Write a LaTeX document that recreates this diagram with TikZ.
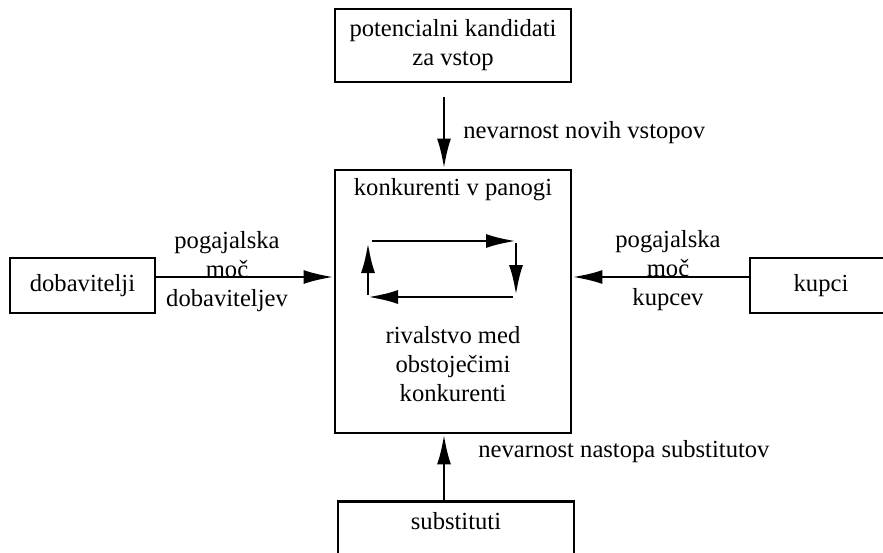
\documentclass[tikz,border=0pt]{standalone}
\usepackage{fontspec}
\setmainfont{Liberation Serif}
\usetikzlibrary{arrows.meta}
\tikzset{>={Latex[length=15pt,width=7pt]}}
\tikzset{box/.style={draw, line width=1.4pt, inner sep=0pt, align=center}}
\tikzset{napis/.style={inner sep=0pt, align=center, font=\fontsize{12.3}{14.5}\selectfont}}

\begin{document}
\begin{tikzpicture}[x=0.5pt, y=-0.5pt, line width=1.4pt, every node/.style={napis}]
\clip (0,0) rectangle (883,552);
% okvirji
\node[box, minimum width=118pt, minimum height=36.5pt] (vstop) at (453,45.5) {potencialni kandidati\\za vstop};
\node[box, minimum width=118pt, minimum height=131.5pt] (panoga) at (453,301.5) {};
\node[box, minimum width=72.5pt, minimum height=27.5pt] (dob) at (82.5,285.5) {dobavitelji};
\node[box, minimum width=71pt, minimum height=27.5pt] (kup) at (821,285.5) {kupci};
\node[box, minimum width=118pt, minimum height=50pt, anchor=north] (subst) at (456,500) {};
\node (substnapis) at (456,521) {substituti};
% napisi v panogi
\node (naslov) at (453,190) {konkurenti v panogi};
\node (rival) at (453,364) {rivalstvo med\\obstoječimi\\konkurenti};
% puscice od zunaj
\coordinate (vstopkonec) at (444,97);
\coordinate (visina) at (0,277);
\draw[->] (vstopkonec) -- (vstopkonec |- panoga.north);
\draw[->] (dob.east |- visina) -- (panoga.west |- visina);
\draw[->] (kup.west |- visina) -- (panoga.east |- visina);
\draw[->] (subst.north -| vstopkonec) -- (panoga.south -| vstopkonec);
\node[anchor=west] (novi) at (462,133) {nevarnost novih vstopov};
\node[anchor=west] (nastop) at (477,452) {nevarnost nastopa substitutov};
\node (mocdob) at (227,272) {pogajalska\\moč\\dobaviteljev};
\node (mockup) at (668,271) {pogajalska\\moč\\kupcev};
% krog rivalstva
\coordinate (k1) at (372,241);
\coordinate (k2) at (516,241);
\coordinate (k3) at (516,297);
\coordinate (k4) at (368,297);
\draw[->] (k1) -- (k2);
\draw[->] ([yshift=-1pt]k2) -- ([yshift=1pt]k3);
\draw[->] ([xshift=-1.5pt]k3) -- (k4);
\draw[->] ([yshift=1pt]k4) -- ([yshift=-1pt]k4 |- k1);
\end{tikzpicture}
\end{document}
